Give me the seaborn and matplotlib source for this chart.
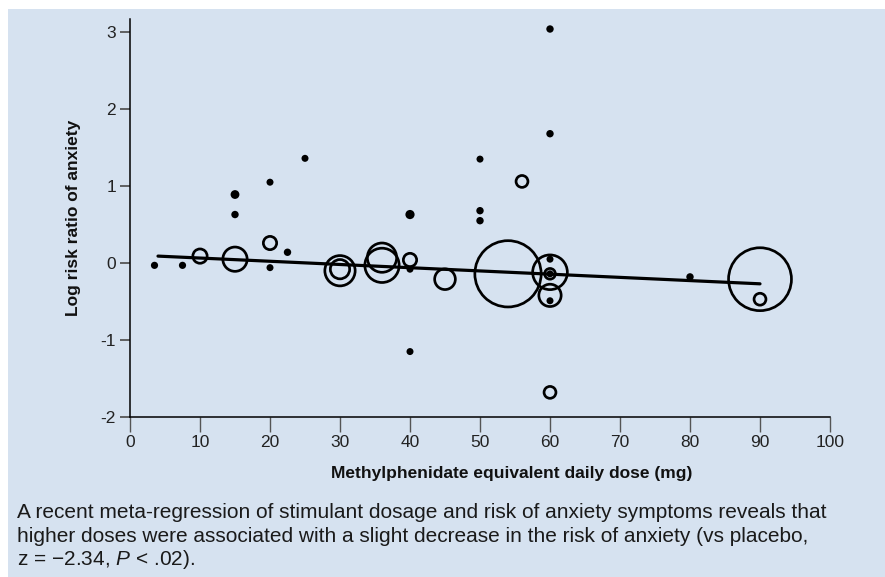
import numpy as np
import pandas as pd
import matplotlib
matplotlib.use("Agg")
import matplotlib.pyplot as plt
import seaborn as sns
from matplotlib.patches import Rectangle

# study level data
dose = [3.5, 7.5, 15, 15, 20, 20, 22.5, 25, 40, 40, 40, 50, 50, 50, 60, 60, 60, 60, 60, 80,
        10, 15, 20, 30, 30, 36, 36, 40, 45, 54, 56, 60, 60, 60, 60, 90, 90]
log_rr = [-0.03, -0.03, 0.89, 0.63, 1.05, -0.06, 0.14, 1.36, 0.63, -0.08, -1.15, 1.35, 0.68, 0.55,
          3.04, 1.68, 0.05, -0.14, -0.49, -0.18,
          0.09, 0.05, 0.26, -0.10, -0.08, 0.07, -0.03, 0.04, -0.21, -0.14, 1.06, -0.12, -0.14,
          -0.42, -1.68, -0.21, -0.47]
# bubble radius (study weight), pixels
weight = [3.6, 3.6, 4.4, 3.7, 3.5, 3.5, 3.7, 3.5, 4.6, 3.5, 3.5, 3.5, 3.7, 3.7, 3.7, 3.7, 3.5, 3.5,
          3.5, 3.7,
          8.5, 13.5, 8, 16.5, 11, 16, 18.5, 8, 11.7, 34.5, 7.3, 18.7, 6.7, 12.5, 7.3, 32.8, 7.3]

# fitted meta-regression line
reg_dose = [4, 90]
reg_log_rr = [0.09, -0.27]

x_ticks = [0, 10, 20, 30, 40, 50, 60, 70, 80, 90, 100]
y_ticks = [-2, -1, 0, 1, 2, 3]

caption_lines = ["A recent meta-regression of stimulant dosage and risk of anxiety symptoms reveals that",
                 "higher doses were associated with a slight decrease in the risk of anxiety (vs placebo,",
                 "z = \u22122.34, $\\mathit{P}$ < .02)."]

df = pd.DataFrame({"dose": dose, "log_rr": log_rr, "weight": weight})

sns.set_style("ticks")
plt.rcParams['font.family'] = ['Liberation Sans', 'DejaVu Sans']
plt.rcParams['axes.unicode_minus'] = False
plt.rcParams['mathtext.fontset'] = 'custom'
plt.rcParams['mathtext.rm'] = 'Liberation Sans'
plt.rcParams['mathtext.it'] = 'Liberation Sans:italic'

W, H = 885, 577
fig = plt.figure(figsize=(W / 100, H / 100), dpi=100, facecolor='white')
fig.patches.append(Rectangle((8 / W, 0), 1, 1 - 9 / H, transform=fig.transFigure,
                             facecolor='#d6e2f0', edgecolor='none', zorder=-5))

ax = fig.add_axes([130 / W, 160 / H, 700 / W, 398 / H])
ax.set_zorder(2)
ax.set_facecolor('none')

lw_px = 2.7
small = df[df.weight < 5]
big = df[df.weight >= 5]
# marker sizes in points^2
s_small = ((2 * small.weight) * 0.72) ** 2
s_big = ((2 * big.weight - lw_px) * 0.72) ** 2

sns.lineplot(x=reg_dose, y=reg_log_rr, color='black', linewidth=2.3, ax=ax, zorder=3)
sns.scatterplot(data=big, x='dose', y='log_rr', s=s_big.values, marker='o',
                facecolors='none', edgecolor='black', linewidth=lw_px * 0.72, ax=ax, zorder=4)
sns.scatterplot(data=small, x='dose', y='log_rr', s=s_small.values, marker='o',
                color='black', edgecolor='none', linewidth=0, ax=ax, zorder=5)

ax.set_xlim(0, 100)
ax.set_ylim(-2, 3.17)
ax.set_xticks(x_ticks)
ax.set_yticks(y_ticks)
ax.set_xticklabels([str(t) for t in x_ticks])
ax.set_yticklabels([str(t) for t in y_ticks])
sns.despine(ax=ax)
for sp in ['left', 'bottom']:
    ax.spines[sp].set_linewidth(1.1)
    ax.spines[sp].set_color('black')
ax.tick_params(axis='x', direction='out', length=11, width=1, color='#555555',
               labelsize=12.5, labelcolor='#222222', pad=2)
ax.tick_params(axis='y', direction='out', length=7, width=1.3, color='#555555',
               labelsize=12.5, labelcolor='#222222', pad=3)

ax.set_xlabel("Methylphenidate equivalent daily dose (mg)", fontsize=12.5, fontweight='bold',
              color='#111111')
ax.xaxis.set_label_coords((512 - 130) / 700, -(466 - 417) / 398)
ax.set_ylabel("Log risk ratio of anxiety", fontsize=12.5, fontweight='bold', color='#111111')
ax.yaxis.set_label_coords(-(130 - 81) / 700, (417 - 218) / 398)

for i, line in enumerate(caption_lines):
    fig.text(17 / W, 1 - (518 + 23.5 * i) / H, line, fontsize=15, color='#1a1a1a',
             va='baseline', ha='left')

fig.savefig("out.png", dpi=100, facecolor=fig.get_facecolor())
